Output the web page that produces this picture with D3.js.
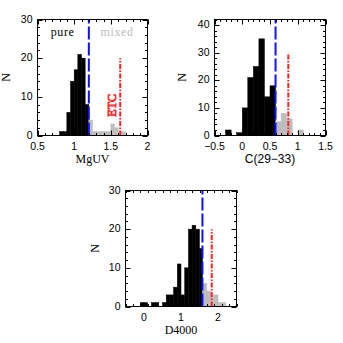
<!DOCTYPE html>
<html><head><meta charset="utf-8">
<script src="https://cdn.jsdelivr.net/npm/d3@7"></script>
<style>body{margin:0;background:#fff}svg{display:block}</style>
</head><body>
<script>
// ---- data ----
const mguvPureStart = 0.8, mguvStep = 0.05;
const mguvPureCounts = [1, 1, 6, 14, 17, 21, 20, 8];
const mguvMixedStart = 1.2;
const mguvMixedCounts = [4, 1, 1, 1, 1, 1, 3, 2, 1, 1];
const mguvCut = 1.2, mguvEtc = 1.628, mguvEtcH = 20;

const cPureStart = -0.3, cStep = 0.1;
const cPureCounts = [2, 0, 1, 10, 21, 25, 35, 14, 18];
const cMixedStart = 0.6;
const cMixedCounts = [5, 8, 6, 0, 2];
const cCut = 0.6, cEtc = 0.83, cEtcH = 30;

const dPureEdges = [-0.1, 0, 0.1, 0.2, 0.3, 0.4, 0.5, 0.6, 0.7, 0.8, 0.9, 1.0, 1.1, 1.2, 1.3, 1.4, 1.5, 1.58];
const dPureCounts = [1, 1, 0, 1, 1, 0, 1, 3, 3, 5, 11, 3, 10, 20, 21, 20, 15];
const dMixedEdges = [1.58, 1.7, 1.8, 1.9, 2.0, 2.1, 2.2];
const dMixedCounts = [6, 4, 3, 3, 1, 1];
const dCut = 1.58, dEtc = 1.83, dEtcH = 20;

const xTicks1 = [0.5, 1, 1.5, 2], xTickLabels1 = ["0.5", "1", "1.5", "2"];
const xTicks2 = [-0.5, 0, 0.5, 1, 1.5], xTickLabels2 = ["\u22120.5", "0", "0.5", "1", "1.5"];
const xTicks3 = [0, 1, 2], xTickLabels3 = ["0", "1", "2"];
const yTicks1 = [0, 10, 20, 30], yTicks2 = [0, 10, 20, 30, 40], yTicks3 = [0, 10, 20, 30];

function edgesFromStart(start, step, n) { return d3.range(n + 1).map(i => start + i * step); }

const W = 343, H = 343;
const svg = d3.select("body").append("svg").attr("width", W).attr("height", H);

const GRAY = "#bdbdbd";
const sans = "'Liberation Sans', Arial, sans-serif";
const serif = "'Liberation Serif', 'Times New Roman', serif";

function panel(cfg) {
  const x = d3.scaleLinear().domain(cfg.xd).range([cfg.x0, cfg.x1]);
  const y = d3.scaleLinear().domain(cfg.yd).range([cfg.y1, cfg.y0]);
  const g = svg.append("g");
  const clipId = "clip" + cfg.id;
  svg.append("clipPath").attr("id", clipId).append("rect")
    .attr("x", cfg.x0).attr("y", cfg.y0).attr("width", cfg.x1 - cfg.x0).attr("height", cfg.y1 - cfg.y0);
  const inner = g.append("g").attr("clip-path", `url(#${clipId})`);

  function bars(edges, counts, color) {
    const data = counts.map((c, i) => ({ a: edges[i], b: edges[i + 1], c }));
    inner.selectAll(null).data(data.filter(d => d.c > 0)).enter().append("rect")
      .attr("x", d => x(d.a)).attr("width", d => x(d.b) - x(d.a))
      .attr("y", d => y(d.c)).attr("height", d => y(0) - y(d.c))
      .attr("fill", color).attr("stroke", color).attr("stroke-width", 0.5);
  }
  bars(cfg.pureEdges, cfg.pureCounts, "#000");
  bars(cfg.mixedEdges, cfg.mixedCounts, GRAY);

  // cut line (blue dashed)
  inner.append("line").attr("x1", x(cfg.cut)).attr("x2", x(cfg.cut))
    .attr("y1", y(0)).attr("y2", y(cfg.yd[1]))
    .attr("stroke", "#1010ff").attr("stroke-width", 2).attr("stroke-dasharray", "13,3");
  // ETC line (red dot-dash)
  inner.append("line").attr("x1", x(cfg.etc)).attr("x2", x(cfg.etc))
    .attr("y1", y(0)).attr("y2", y(cfg.etcH))
    .attr("stroke", "#ff2020").attr("stroke-width", 2).attr("stroke-dasharray", "5,1.5,1.5,1.5");

  // axes (ticks inside, mirrored)
  const big = 5, small = 2.5;
  const ax = g.append("g").attr("stroke", "#000").attr("stroke-width", 1);
  const xMinor = d3.range(cfg.xd[0], cfg.xd[1] + 1e-9, cfg.xMinor);
  const yMinor = d3.range(cfg.yd[0], cfg.yd[1] + 1e-9, cfg.yMinor);
  const isMajor = (v, arr) => arr.some(t => Math.abs(t - v) < 1e-6);
  xMinor.forEach(v => {
    const L = isMajor(v, cfg.xTicks) ? big : small;
    const px = Math.round(x(v)) + 0.5;
    ax.append("line").attr("x1", px).attr("x2", px).attr("y1", cfg.y1).attr("y2", cfg.y1 - L);
    ax.append("line").attr("x1", px).attr("x2", px).attr("y1", cfg.y0).attr("y2", cfg.y0 + L);
  });
  yMinor.forEach(v => {
    const L = isMajor(v, cfg.yTicks) ? big : small;
    const py = Math.round(y(v)) + 0.5;
    ax.append("line").attr("y1", py).attr("y2", py).attr("x1", cfg.x0).attr("x2", cfg.x0 + L);
    ax.append("line").attr("y1", py).attr("y2", py).attr("x1", cfg.x1).attr("x2", cfg.x1 - L);
  });
  g.append("rect").attr("x", cfg.x0).attr("y", cfg.y0).attr("width", cfg.x1 - cfg.x0)
    .attr("height", cfg.y1 - cfg.y0).attr("fill", "none").attr("stroke", "#000").attr("stroke-width", 1);

  // tick labels
  g.selectAll(null).data(cfg.xTicks).enter().append("text")
    .attr("x", d => x(d)).attr("y", cfg.y1 + 14.5).attr("text-anchor", "middle")
    .attr("font-family", sans).attr("font-size", 10.5).attr("fill", "#000")
    .text((d, i) => cfg.xTickLabels[i]);
  g.selectAll(null).data(cfg.yTicks).enter().append("text")
    .attr("x", cfg.x0 - 5).attr("y", d => y(d) + 3).attr("text-anchor", "end")
    .attr("font-family", sans).attr("font-size", 10.5).attr("fill", "#000")
    .text(d => d);
  // axis labels
  g.append("text").attr("x", (cfg.x0 + cfg.x1) / 2).attr("y", cfg.y1 + 27).attr("text-anchor", "middle")
    .attr("font-family", cfg.xLabelFont).attr("font-size", cfg.xLabelSize).attr("fill", "#000").text(cfg.xLabel);
  g.append("text").attr("transform", `translate(${cfg.nX},${(cfg.y0 + cfg.y1) / 2}) rotate(-90)`)
    .attr("text-anchor", "middle").attr("font-family", serif).attr("font-size", 12).attr("fill", "#000").text("N");
  return { x, y, g };
}

const p1 = panel({
  id: 1, x0: 37.5, x1: 147.5, y0: 19.5, y1: 135.5, xd: [0.5, 2], yd: [0, 30],
  pureEdges: edgesFromStart(mguvPureStart, mguvStep, mguvPureCounts.length), pureCounts: mguvPureCounts,
  mixedEdges: edgesFromStart(mguvMixedStart, mguvStep, mguvMixedCounts.length), mixedCounts: mguvMixedCounts,
  cut: mguvCut, etc: mguvEtc, etcH: mguvEtcH,
  xTicks: xTicks1, xTickLabels: xTickLabels1, xMinor: 0.1, yTicks: yTicks1, yMinor: 2,
  xLabel: "MgUV", xLabelFont: serif, xLabelSize: 12, nX: 10
});
const p2 = panel({
  id: 2, x0: 214.5, x1: 325.5, y0: 19.5, y1: 135.5, xd: [-0.5, 1.5], yd: [0, 42],
  pureEdges: edgesFromStart(cPureStart, cStep, cPureCounts.length), pureCounts: cPureCounts,
  mixedEdges: edgesFromStart(cMixedStart, cStep, cMixedCounts.length), mixedCounts: cMixedCounts,
  cut: cCut, etc: cEtc, etcH: cEtcH,
  xTicks: xTicks2, xTickLabels: xTickLabels2, xMinor: 0.1, yTicks: yTicks2, yMinor: 2,
  xLabel: "C(29\u221233)", xLabelFont: sans, xLabelSize: 12, nX: 186
});
const p3 = panel({
  id: 3, x0: 125.5, x1: 236.5, y0: 190.5, y1: 306.5, xd: [-0.5, 2.5], yd: [0, 30],
  pureEdges: dPureEdges, pureCounts: dPureCounts,
  mixedEdges: dMixedEdges, mixedCounts: dMixedCounts,
  cut: dCut, etc: dEtc, etcH: dEtcH,
  xTicks: xTicks3, xTickLabels: xTickLabels3, xMinor: 0.2, yTicks: yTicks3, yMinor: 2,
  xLabel: "D4000", xLabelFont: serif, xLabelSize: 12, nX: 99
});

// annotations panel 1
p1.g.append("text").attr("x", p1.x(0.68)).attr("y", p1.y(25.8)).attr("font-family", serif)
  .attr("font-size", 12).attr("letter-spacing", 0.6).attr("fill", "#000").text("pure");
p1.g.append("text").attr("x", p1.x(1.36)).attr("y", p1.y(25.8)).attr("font-family", serif)
  .attr("font-size", 12).attr("letter-spacing", 0.6).attr("fill", GRAY).text("mixed");
p1.g.append("text").attr("transform", `translate(${p1.x(1.575)},${p1.y(7.8)}) rotate(-90)`)
  .attr("text-anchor", "middle").attr("font-family", serif).attr("font-size", 12)
  .attr("fill", "none").attr("stroke", "#ff2020").attr("stroke-width", 0.9).text("ETC");
</script>
</body></html>
